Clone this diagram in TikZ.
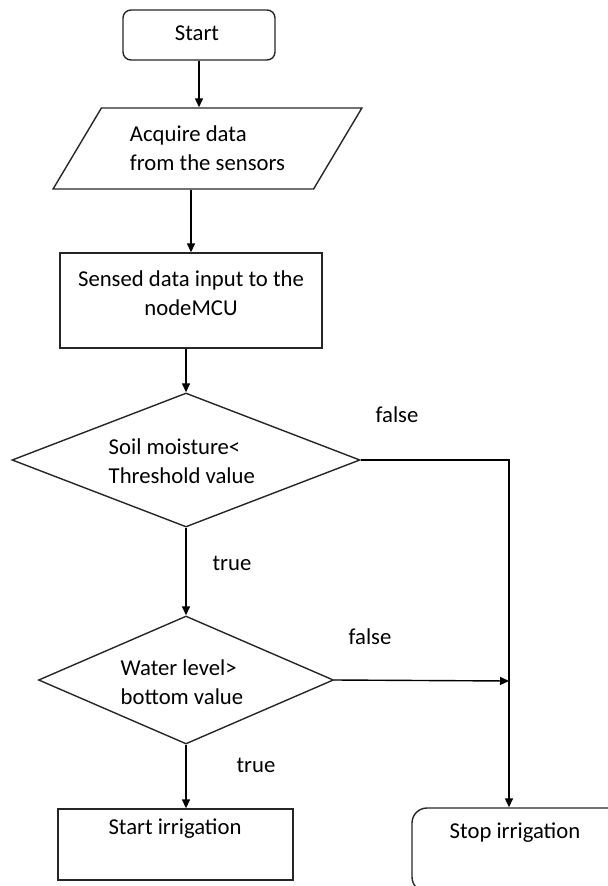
\documentclass[tikz,border=0pt]{standalone}
\usepackage{fontspec}
\setmainfont{Carlito}
\usetikzlibrary{shapes.geometric}
\usetikzlibrary{arrows.meta}

\begin{document}
\begin{tikzpicture}[x=0.5pt, y=-0.5pt, line width=0.7pt,
    every node/.style={font=\fontsize{11.35}{14.5}\selectfont},
    txt/.style={inner sep=0pt, align=left},
    termbox/.style={draw=black!85, inner sep=0pt, rounded corners=#1},
    procbox/.style={draw=black!85, inner sep=0pt},
    iobox/.style={draw=black!85, trapezium, trapezium left angle=53.5, trapezium right angle=126.5,
        trapezium stretches=true, inner sep=1pt, align=left},
    decision/.style={draw=black!85, diamond, inner sep=0pt},
    arrow/.style={-{Triangle[length=4.5pt,width=4pt]}}]
    \useasboundingbox (0,0) rectangle (607,886);
    % shapes
    \node[termbox=4pt, minimum width=76pt, minimum height=25pt] (start) at (199,35) {};
    \node[iobox, minimum width=154.5pt, minimum height=40.5pt] (acq) at (207.5,148.5) {Acquire data\\from the sensors};
    \node[procbox, minimum width=131pt, minimum height=47.5pt] (sensed) at (191,300.5) {};
    \node[decision, minimum width=174pt, minimum height=67pt] (soil) at (186,460) {};
    \node[decision, minimum width=147.5pt, minimum height=64pt] (water) at (186,680) {};
    \node[procbox, minimum width=117.5pt, minimum height=35.5pt] (irrig) at (175.5,844.5) {};
    \node[termbox=7.5pt, minimum width=108pt, minimum height=42pt] (stop) at (520,850) {};
    \coordinate (join) at (509,681);
    % texts
    \node[txt] (starttext) at (197,33) {Start};
    \node[txt, align=center] (sensedtext) at (191,293) {Sensed data input to the\\nodeMCU};
    \node[txt, anchor=west] (soiltext) at (108,461) {Soil moisture<\\Threshold value};
    \node[txt, anchor=west] (watertext) at (120,682.5) {Water level>\\bottom value};
    \node[txt] (irrigtext) at (175,829) {Start irrigation};
    \node[txt] (stoptext) at (515,833) {Stop irrigation};
    % labels
    \node[txt] (false1) at (397,415) {false};
    \node[txt] (true1) at (232,563) {true};
    \node[txt] (false2) at (370,637) {false};
    \node[txt] (true2) at (256,765) {true};
    % connectors
    \draw[arrow] (start.south) -- (start.south |- acq.north);
    \draw[arrow] (sensed.north |- acq.south) -- (sensed.north);
    \draw[arrow] (soil.north |- sensed.south) -- (soil.north);
    \draw[arrow] (soil.south) -- (water.north);
    \draw[arrow] (water.south) -- (water.south |- irrig.north);
    \draw[arrow] (soil.east) -| (join |- stop.north);
    \draw[arrow] (water.east) -- (join);
\end{tikzpicture}
\end{document}
